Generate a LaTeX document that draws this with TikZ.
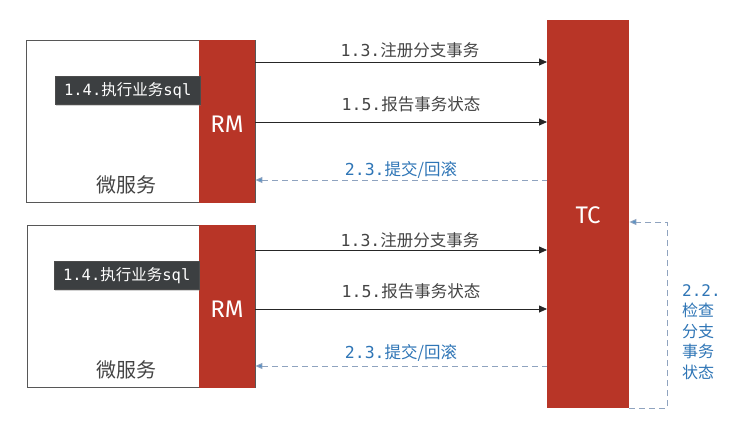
\documentclass[tikz,border=0pt]{standalone}
\usepackage{fontspec}
\setmonofont{DejaVu Sans Mono}
\setsansfont{Fira Sans}
\newfontfamily\cjk{Noto Sans CJK SC}
\usetikzlibrary{arrows.meta,shadows}
\definecolor{rmred}{HTML}{B83527}
\definecolor{txtgray}{HTML}{444444}
\definecolor{lblue}{HTML}{2E75B6}
\definecolor{dashgray}{HTML}{8FA3BF}
\definecolor{darkbox}{HTML}{3C3F41}
\begin{document}
\begin{tikzpicture}[x=1pt,y=-1pt,
  svc/.style={draw=txtgray!90,line width=1.3pt,fill=white},
  redbar/.style={fill=rmred,draw=none},
  bigtxt/.style={text=white,font=\sffamily\fontsize{24}{27}\selectfont},
  sqlbox/.style={fill=darkbox,draw=black!70,text=white,inner sep=0pt,drop shadow={shadow xshift=1pt,shadow yshift=-1.5pt,opacity=0.35}},
  msg/.style={-{Triangle[length=8pt,width=7pt]},line width=0.8pt,black!85},
  back/.style={dashed,dash pattern=on 6pt off 4pt,line width=0.9pt,draw=dashgray},
  mlbl/.style={text=txtgray,font=\fontsize{16.5}{19}\selectfont,inner sep=0pt},
  blbl/.style={text=lblue,font=\fontsize{16.5}{19}\selectfont,inner sep=0pt},
  svclbl/.style={text=txtgray,font=\cjk\fontsize{20}{22}\selectfont,inner sep=0pt},
  sqltxt/.style={text=white,font=\fontsize{15.5}{18}\selectfont,inner sep=0pt}
]
\useasboundingbox (0,0) rectangle (738,434);
\fill[white] (0,0) rectangle (738,434);

% TC
\node[redbar,minimum width=82pt,minimum height=388pt,anchor=north west] (tc) at (547,20) {};
\node[bigtxt] (tctxt) at (588,215) {TC};

% top service
\node[svc,minimum width=229pt,minimum height=162pt,anchor=north west] (svc1) at (26,40) {};
\node[redbar,minimum width=56pt,minimum height=163pt,anchor=north west] (rm1) at (199,39.5) {};
\node[bigtxt] (rm1txt) at (227,124) {RM};
\node[svclbl] (s1lbl) at (126,185) {微服务};
\node[sqlbox,minimum width=145pt,minimum height=28pt,anchor=north west] (sql1) at (55,76) {};
\node[sqltxt] (sql1t) at (sql1.center) {\ttfamily 1.4.{\cjk 执行业务}sql};

% bottom service
\node[svc,minimum width=228pt,minimum height=162pt,anchor=north west] (svc2) at (27,225) {};
\node[redbar,minimum width=56pt,minimum height=163pt,anchor=north west] (rm2) at (199,224.5) {};
\node[bigtxt] (rm2txt) at (227,309) {RM};
\node[svclbl] (s2lbl) at (126,370) {微服务};
\node[sqlbox,minimum width=145pt,minimum height=28pt,anchor=north west] (sql2) at (54,261) {};
\node[sqltxt] (sql2t) at (sql2.center) {\ttfamily 1.4.{\cjk 执行业务}sql};

% top arrows
\draw[msg] (rm1.east |- 0,62) -- (tc.west |- 0,62);
\node[mlbl] (l13a) at (410,50) {\ttfamily 1.3.{\cjk 注册分支事务}};
\draw[msg] (rm1.east |- 0,122) -- (tc.west |- 0,122);
\node[mlbl] (l15a) at (411,104) {\ttfamily 1.5.{\cjk 报告事务状态}};
\draw[back,{Triangle[length=7pt,width=6pt,fill=lblue!80]}-] (rm1.east |- 0,180) -- (tc.west |- 0,180);
\node[blbl] (l23a) at (401,170) {\ttfamily 2.3.{\cjk 提交/回滚}};

% bottom arrows
\draw[msg] (rm2.east |- 0,250) -- (tc.west |- 0,250);
\node[mlbl] (l13b) at (410,240) {\ttfamily 1.3.{\cjk 注册分支事务}};
\draw[msg] (rm2.east |- 0,309) -- (tc.west |- 0,309);
\node[mlbl] (l15b) at (411,291) {\ttfamily 1.5.{\cjk 报告事务状态}};
\draw[back,{Triangle[length=7pt,width=6pt,fill=lblue!80]}-] (rm2.east |- 0,366) -- (tc.west |- 0,366);
\node[blbl] (l23b) at (401,353) {\ttfamily 2.3.{\cjk 提交/回滚}};

% loop 2.2
\coordinate (lc) at (667,222);
\draw[back,-{Triangle[length=7pt,width=6pt,fill=lblue!80]}]
  (tc.south east) -| (lc) -- (tc.east |- lc);
\node[text=lblue,font=\fontsize{16}{20.5}\selectfont,inner sep=0pt,align=left,anchor=north west] (l22) at (682,284)
  {\ttfamily 2.2.\\{\cjk 检查}\\{\cjk 分支}\\{\cjk 事务}\\{\cjk 状态}};
\end{tikzpicture}
\end{document}
